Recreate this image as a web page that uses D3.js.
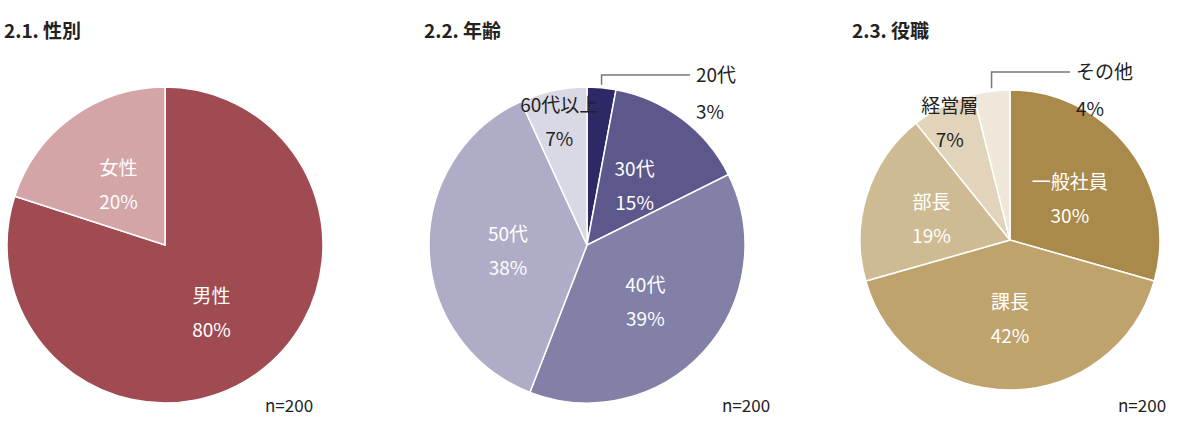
<!DOCTYPE html>
<html><head><meta charset="utf-8">
<script src="https://cdn.jsdelivr.net/npm/d3@7"></script>
<style>body{margin:0;background:#fff}text{font-family:"Noto Sans CJK JP","Noto Sans",sans-serif}</style>
</head><body>
<script>
// chart 1: gender
var genderLabels = ['男性', '女性'];
var genderValues = [80, 20];
var genderColors = ['#a04b51', '#d3a5a6'];
// chart 2: age
var ageLabels = ['20代', '30代', '40代', '50代', '60代以上'];
var ageValues = [3, 15, 39, 38, 7];
var ageColors = ['#2c2966', '#5d588b', '#8280a7', '#aeacc6', '#d9d8e5'];
// chart 3: position
var posLabels = ['一般社員', '課長', '部長', '経営層', 'その他'];
var posValues = [30, 42, 19, 7, 4];
var posColors = ['#aa8a4b', '#bfa36d', '#cfbb93', '#e1d4ba', '#efe7da'];

var charts = [
  {title: '2.1. 性別', labels: genderLabels, values: genderValues, colors: genderColors,
   cx: 165, cy: 245, r: 158, tx: 4, nx: 265, lf: [0.5, 0.5], dark: [], outside: []},
  {title: '2.2. 年齢', labels: ageLabels, values: ageValues, colors: ageColors,
   cx: 587, cy: 245, r: 158, tx: 424, nx: 722, lf: [0, 0.5, 0.5, 0.5, 0.82], dark: [4], outside: [0],
   ox: 690, oy: 75},
  {title: '2.3. 役職', labels: posLabels, values: posValues, colors: posColors,
   cx: 1010, cy: 240, r: 150, tx: 852, nx: 1118, lf: [0.5, 0.5, 0.55, 0.9, 0], dark: [3], outside: [4],
   ox: 1070, oy: 72}
];

var svg = d3.select('body').append('svg').attr('width', 1186).attr('height', 430);

charts.forEach(function(c) {
  svg.append('text').attr('x', c.tx).attr('y', 38).attr('font-size', 19).attr('font-weight', 'bold')
    .attr('fill', '#222').text(c.title);
  svg.append('text').attr('x', c.nx).attr('y', 412).attr('font-size', 17).attr('fill', '#222').text('n=200');

  var pie = d3.pie().sort(null);
  var arcs = pie(c.values);
  var arc = d3.arc().innerRadius(0).outerRadius(c.r);
  var g = svg.append('g').attr('transform', 'translate(' + c.cx + ',' + c.cy + ')');
  g.selectAll('path').data(arcs).enter().append('path')
    .attr('d', arc).attr('fill', function(d, i) { return c.colors[i]; })
    .attr('stroke', '#fff').attr('stroke-width', 1.5);

  arcs.forEach(function(d, i) {
    var a = (d.startAngle + d.endAngle) / 2;
    if (c.outside.indexOf(i) >= 0) {
      var px = c.r * Math.sin(a), py = -c.r * Math.cos(a);
      g.append('path').attr('fill', 'none').attr('stroke', '#777').attr('stroke-width', 1.5)
        .attr('d', 'M' + px + ',' + (py - 3) + 'V' + (c.oy - c.cy) + 'H' + (c.ox - c.cx));
      var t = svg.append('text').attr('font-size', 19).attr('fill', '#222');
      t.append('tspan').attr('x', c.ox + 6).attr('y', c.oy + 7).text(c.labels[i]);
      t.append('tspan').attr('x', c.ox + 6).attr('y', c.oy + 44).text(c.values[i] + '%');
      return;
    }
    var lr = c.r * c.lf[i];
    var x = lr * Math.sin(a), y = -lr * Math.cos(a);
    var t2 = g.append('text').attr('font-size', 19).attr('text-anchor', 'middle')
      .attr('fill', c.dark.indexOf(i) >= 0 ? '#222' : '#fff');
    t2.append('tspan').attr('x', x).attr('y', y - 6).text(c.labels[i]);
    t2.append('tspan').attr('x', x).attr('y', y + 28).text(c.values[i] + '%');
  });
});
</script>
</body></html>
